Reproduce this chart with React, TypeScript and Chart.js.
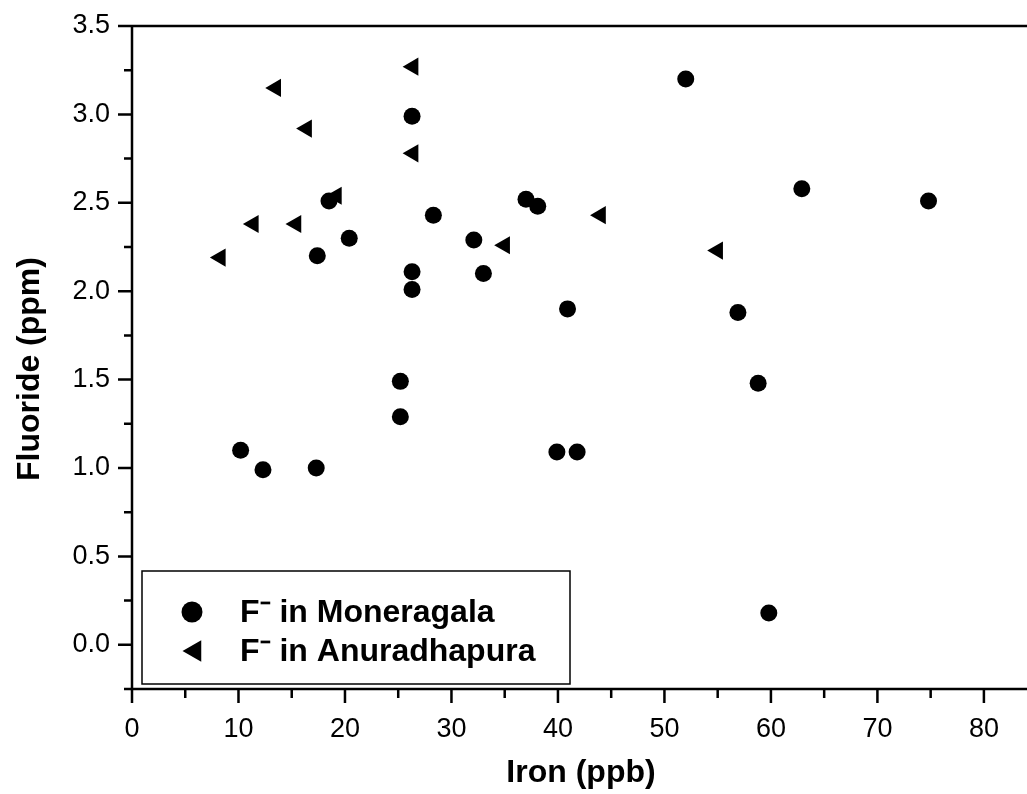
import React, { useEffect, useRef } from "react";
import { Chart, registerables } from "chart.js";

Chart.register(...registerables);

// Iron (ppb) vs Fluoride (ppm)
const moneragalaIron = [10.2, 12.3, 17.3, 17.4, 18.5, 20.4, 25.2, 25.2, 26.3, 26.3, 26.3, 28.3, 32.1, 33.0, 37.0, 38.1, 40.9, 39.9, 41.8, 52.0, 56.9, 58.8, 59.8, 62.9, 74.8];
const moneragalaFluoride = [1.10, 0.99, 1.00, 2.20, 2.51, 2.30, 1.29, 1.49, 2.01, 2.11, 2.99, 2.43, 2.29, 2.10, 2.52, 2.48, 1.90, 1.09, 1.09, 3.20, 1.88, 1.48, 0.18, 2.58, 2.51];

const anuradhapuraIron = [8.3, 11.4, 13.5, 15.4, 16.4, 19.2, 26.4, 26.4, 35.0, 44.0, 55.0];
const anuradhapuraFluoride = [2.19, 2.38, 3.15, 2.38, 2.92, 2.54, 3.27, 2.78, 2.26, 2.43, 2.23];

const seriesLabels = ["F\u207B in Moneragala", "F\u207B in Anuradhapura"];
const xTitle = "Iron (ppb)";
const yTitle = "Fluoride (ppm)";

const xTickValues = [0, 5, 10, 15, 20, 25, 30, 35, 40, 45, 50, 55, 60, 65, 70, 75, 80];
const xTickLabels = ["0", "10", "20", "30", "40", "50", "60", "70", "80"];
const yTickValues = [-0.25, 0, 0.25, 0.5, 0.75, 1, 1.25, 1.5, 1.75, 2, 2.25, 2.5, 2.75, 3, 3.25, 3.5];
const yTickLabels = ["0.0", "0.5", "1.0", "1.5", "2.0", "2.5", "3.0", "3.5"];

const X_MIN = 0;
const X_MAX = 84;
const Y_MIN = -0.25;
const Y_MAX = 3.5;

const FONT = "'Liberation Sans', Arial, Helvetica, sans-serif";

const isMajorX = (v: number) => v % 10 === 0;
const isMajorY = (v: number) => Math.abs(v * 2 - Math.round(v * 2)) < 1e-6;

function drawCircle(ctx: CanvasRenderingContext2D, x: number, y: number, r: number) {
  ctx.beginPath();
  ctx.arc(x, y, r, 0, Math.PI * 2);
  ctx.fill();
}
function drawLeftTriangle(ctx: CanvasRenderingContext2D, x: number, y: number, r: number) {
  ctx.beginPath();
  ctx.moveTo(x - r, y);
  ctx.lineTo(x + r * 0.5, y - r * 0.866);
  ctx.lineTo(x + r * 0.5, y + r * 0.866);
  ctx.closePath();
  ctx.fill();
}

const framePlugin = {
  id: "framePlugin",
  afterDraw(chart: any) {
    const ctx: CanvasRenderingContext2D = chart.ctx;
    const { left, right, top, bottom } = chart.chartArea;
    const xs = chart.scales.x;
    const ys = chart.scales.y;
    ctx.save();
    ctx.strokeStyle = "#000";
    ctx.lineWidth = 2.5;
    ctx.beginPath();
    ctx.moveTo(left, top);
    ctx.lineTo(right + 2, top);
    ctx.moveTo(left, top);
    ctx.lineTo(left, bottom);
    ctx.lineTo(right + 2, bottom);
    ctx.stroke();

    ctx.beginPath();
    yTickValues.forEach((v) => {
      const py = ys.getPixelForValue(v);
      ctx.moveTo(left, py);
      ctx.lineTo(left - (isMajorY(v) ? 14 : 8), py);
    });
    xTickValues.forEach((v) => {
      const px = xs.getPixelForValue(v);
      ctx.moveTo(px, bottom);
      ctx.lineTo(px, bottom + (isMajorX(v) ? 14 : 9));
    });
    ctx.stroke();

    // axis titles
    ctx.fillStyle = "#000";
    ctx.font = `bold 32px ${FONT}`;
    ctx.textAlign = "center";
    ctx.textBaseline = "middle";
    ctx.fillText(xTitle, 581, 773);
    ctx.save();
    ctx.translate(30, 369);
    ctx.rotate(-Math.PI / 2);
    ctx.fillText(yTitle, 0, 0);
    ctx.restore();

    // legend
    const lx = 142, ly = 571, lw = 428, lh = 113;
    ctx.lineWidth = 1.5;
    ctx.strokeRect(lx, ly, lw, lh);
    drawCircle(ctx, 192, 612, 10.5);
    drawLeftTriangle(ctx, 195, 651, 12.5);
    ctx.font = `bold 32px ${FONT}`;
    ctx.textAlign = "left";
    ctx.textBaseline = "middle";
    ctx.fillText(seriesLabels[0], 240, 613);
    ctx.fillText(seriesLabels[1], 240, 652);
    ctx.restore();
  },
};

export default function App() {
  const ref = useRef<HTMLCanvasElement | null>(null);
  useEffect(() => {
    document.body.style.margin = "0";
    const canvas = ref.current!;
    const chart = new Chart(canvas, {
      type: "scatter",
      data: {
        datasets: [
          {
            label: seriesLabels[0],
            data: moneragalaIron.map((x, i) => ({ x, y: moneragalaFluoride[i] })),
            pointStyle: "circle",
            pointRadius: 8.5,
            backgroundColor: "#000",
            borderColor: "#000",
            borderWidth: 0,
          },
          {
            label: seriesLabels[1],
            data: anuradhapuraIron.map((x, i) => ({ x, y: anuradhapuraFluoride[i] })),
            pointStyle: "triangle",
            pointRadius: 10.5,
            rotation: -90,
            backgroundColor: "#000",
            borderColor: "#000",
            borderWidth: 0,
          },
        ],
      },
      options: {
        animation: false,
        responsive: false,
        events: [],
        layout: { padding: { left: 0, top: 26, right: 0, bottom: 0 } },
        plugins: { legend: { display: false }, tooltip: { enabled: false } },
        scales: {
          x: {
            type: "linear",
            min: X_MIN,
            max: X_MAX,
            afterBuildTicks: (s: any) => {
              s.ticks = xTickValues.map((value) => ({ value }));
            },
            afterFit: (s: any) => {
              s.height = 105;
              s.paddingLeft = 0;
              s.paddingRight = 0;
            },
            grid: { display: false, drawTicks: false },
            border: { display: false },
            ticks: {
              autoSkip: false,
              maxRotation: 0,
              padding: 24,
              color: "#000",
              font: { family: FONT, size: 27 },
              callback: (v: any) => {
                const n = Number(v);
                return isMajorX(n) ? xTickLabels[n / 10] : "";
              },
            },
          },
          y: {
            type: "linear",
            min: Y_MIN,
            max: Y_MAX,
            afterBuildTicks: (s: any) => {
              s.ticks = yTickValues.map((value) => ({ value }));
            },
            afterFit: (s: any) => {
              s.width = 132;
              s.paddingTop = 0;
              s.paddingBottom = 0;
            },
            grid: { display: false, drawTicks: false },
            border: { display: false },
            ticks: {
              autoSkip: false,
              padding: 22,
              color: "#000",
              font: { family: FONT, size: 27 },
              callback: (v: any) => {
                const n = Number(v);
                return isMajorY(n) ? yTickLabels[Math.round(n * 2)] : "";
              },
            },
          },
        },
      },
      plugins: [framePlugin],
    });
    return () => chart.destroy();
  }, []);
  return (
    <div style={{ width: 1027, height: 794, overflow: "hidden" }}>
      <canvas ref={ref} width={1037} height={794} style={{ display: "block" }} />
    </div>
  );
}
